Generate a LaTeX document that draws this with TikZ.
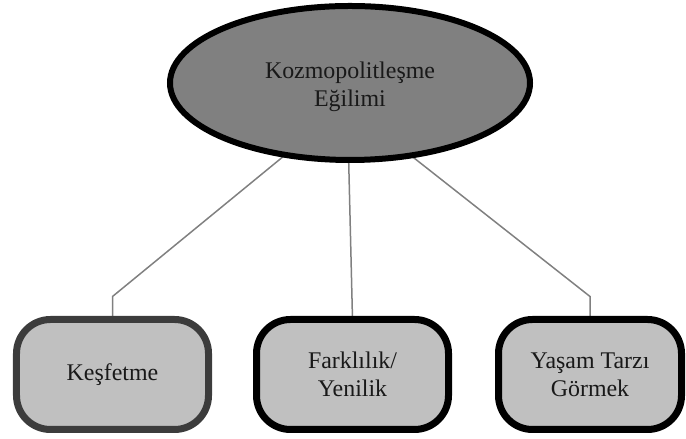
\documentclass[tikz,border=0pt]{standalone}
\usepackage{fontspec}
\setmainfont{Liberation Serif}
\usetikzlibrary{shapes.geometric,backgrounds}
\definecolor{topfill}{HTML}{808080}
\definecolor{boxfill}{HTML}{C0C0C0}
\definecolor{linkgray}{HTML}{808080}
\definecolor{darkrim}{HTML}{3C3C3C}
\tikzset{
  label font/.style={font=\fontsize{24}{28}\selectfont, text=black!90},
  rootnode/.style={ellipse, draw=black, line width=6bp, fill=topfill,
    minimum width=360bp, minimum height=154bp, inner sep=0pt, outer sep=0pt,
    align=center, label font},
  leafnode/.style={rectangle, rounded corners=34bp, draw=black, line width=7bp,
    fill=boxfill, minimum height=110bp, inner sep=0pt, outer sep=0pt,
    align=center, label font},
  link/.style={draw=linkgray, line width=1.5bp}
}
\begin{document}
\begin{tikzpicture}[x=1bp, y=1bp]
  \useasboundingbox (0,0) rectangle (686,439);
  % root concept
  \node[rootnode] (top) at (350,356) {};
  \node[label font, align=center] (toptext) at (350,352) {Kozmopolitleşme\\Eğilimi};
  % three sub-themes
  \node[leafnode, draw=darkrim, minimum width=192bp] (b1) at (112.5,64.5) {Keşfetme};
  \node[leafnode, minimum width=192bp] (b2) at (352.5,64.5) {Farklılık/\\Yenilik};
  \node[leafnode, minimum width=183bp] (b3) at (590,64.5) {Yaşam Tarzı\\Görmek};
  % elbow points above the outer boxes
  \coordinate (k1) at ([yshift=23bp]b1.north);
  \coordinate (k3) at ([yshift=23bp]b3.north);
  \begin{scope}[on background layer]
    \draw[link] (top.228) -- (k1) -- (b1.north);
    \draw[link] (top.269) -- (b2.north);
    \draw[link] (top.310) -- (k3) -- (b3.north);
  \end{scope}
\end{tikzpicture}
\end{document}
